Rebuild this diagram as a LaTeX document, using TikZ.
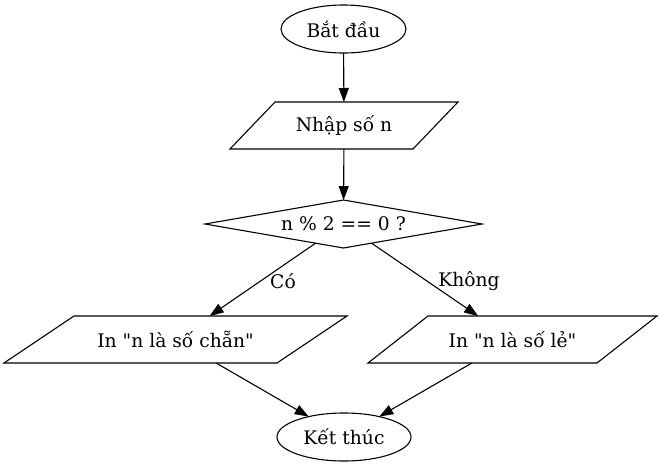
\documentclass[tikz,border=0pt]{standalone}
\usepackage{fontspec}
\setmainfont{DejaVu Serif}
\usetikzlibrary{shapes.geometric,arrows.meta}
\begin{document}
\begin{tikzpicture}[x=1pt,y=-1pt,
  every node/.style={font=\fontsize{18.7}{22}\selectfont},
  terminal/.style={ellipse, draw, line width=1.1pt, inner sep=0pt, outer sep=0pt, minimum height=48pt},
  iobox/.style={rectangle, inner sep=0pt, outer sep=0pt, minimum height=47pt},
  ioline/.style={line width=1.1pt, line join=miter},
  decision/.style={diamond, draw, line width=1.1pt, shape aspect=5.77, inner sep=0pt, outer sep=0pt, minimum width=277pt, minimum height=48pt},
  flow/.style={-{Triangle[length=14pt,width=10pt]}, line width=1.1pt}]
\useasboundingbox (0,0) rectangle (662,467);
\node[terminal, minimum width=125pt] (start) at (343.5,29) {Bắt đầu};
\node[iobox, minimum width=228pt] (input) at (344,125.5) {Nhập số n};
\draw[ioline] ([xshift=45pt]input.north west) -- (input.north east) -- ([xshift=-45pt]input.south east) -- (input.south west) -- cycle;
\node[decision] (check) at (343.5,224) {n \% 2 == 0 ?};
\node[iobox, minimum width=343pt] (even) at (175.5,339.5) {In \textquotedbl n là số chẵn\textquotedbl};
\draw[ioline] ([xshift=70pt]even.north west) -- (even.north east) -- ([xshift=-70pt]even.south east) -- (even.south west) -- cycle;
\node[iobox, minimum width=289pt] (odd) at (512.5,339.5) {In \textquotedbl n là số lẻ\textquotedbl};
\draw[ioline] ([xshift=60pt]odd.north west) -- (odd.north east) -- ([xshift=-60pt]odd.south east) -- (odd.south west) -- cycle;
\node[terminal, minimum width=134pt] (stop) at (344,437) {Kết thúc};
\draw[flow] (start) -- (input);
\draw[flow] (input) -- (check);
\draw[flow] (check) -- (even);
\draw[flow] (check) -- (odd);
\draw[flow] (even) -- (stop);
\draw[flow] (odd) -- (stop);
\node (yes) at (283,281) {Có};
\node (no) at (469,281) {Không};
\end{tikzpicture}
\end{document}
